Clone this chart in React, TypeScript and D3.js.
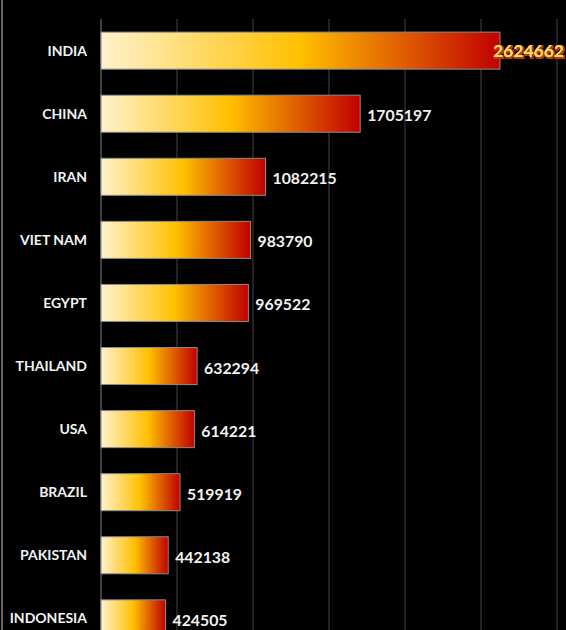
import React from "react";
import * as d3 from "d3";

const countries = ["INDIA", "CHINA", "IRAN", "VIET NAM", "EGYPT", "THAILAND", "USA", "BRAZIL", "PAKISTAN", "INDONESIA"];
const values = [2624662, 1705197, 1082215, 983790, 969522, 632294, 614221, 519919, 442138, 424505];
const gridTicks = [0, 500000, 1000000, 1500000, 2000000, 2500000, 3000000];

const W = 566;
const H = 630;

export default function App() {
  const x = d3.scaleLinear().domain([0, 3000000]).range([101, 557]);
  const y = d3.scaleBand<string>().domain(countries).range([19.5, 649.5]).paddingInner(0.413).paddingOuter(0.2);
  const font = "Lato, 'Open Sans', sans-serif";
  return (
    <svg width={W} height={H} style={{ position: "fixed", left: 0, top: 0, background: "#000" }}>
      <defs>
        {values.map((v, i) => (
          <linearGradient key={i} id={`g${i}`} x1="0" x2="1" y1="0" y2="0">
            <stop offset="0" stopColor="#FFF2CC" />
            <stop offset="0.5" stopColor="#FFC000" />
            <stop offset="1" stopColor="#C00000" />
          </linearGradient>
        ))}
        <filter id="glow" x="-10%" y="-30%" width="120%" height="160%">
          <feMorphology in="SourceAlpha" operator="dilate" radius="0.6" result="d" />
          <feFlood floodColor="#B04000" />
          <feComposite in2="d" operator="in" result="s" />
          <feOffset dx="0.8" dy="0.8" in="s" result="o" />
          <feMerge>
            <feMergeNode in="o" />
            <feMergeNode in="SourceGraphic" />
          </feMerge>
        </filter>
      </defs>
      <rect x={0} y={0} width={W} height={H} fill="#000" />
      <line x1={2} x2={2} y1={0} y2={H} stroke="#8a8a8a" strokeWidth={1.5} />
      {gridTicks.slice(1).map((t) => (
        <line key={t} x1={x(t)} x2={x(t)} y1={19} y2={H} stroke="#3a3a3a" strokeWidth={1.2} />
      ))}
      <line x1={x(0)} x2={x(0)} y1={19} y2={H} stroke="#6a6a6a" strokeWidth={1.2} />
      {countries.map((c, i) => {
        const yy = y(c)!;
        const bw = y.bandwidth();
        const xe = x(values[i]);
        return (
          <g key={c}>
            <rect x={x(0)} y={yy} width={xe - x(0)} height={bw} fill={`url(#g${i})`} stroke="#8c8c8c" strokeWidth={1} />
            <text x={87} y={yy + bw / 2} dy="0.35em" textAnchor="end" fill="#f2f2f2" fontFamily={font} fontWeight={700} fontSize={14}>
              {c}
            </text>
            {i === 0 ? (
              <text x={xe - 7} y={yy + bw / 2} dy="0.35em" fill="#FFD966" fontFamily={font} fontWeight={700} fontSize={17.5} filter="url(#glow)">
                {values[i]}
              </text>
            ) : (
              <text x={xe + 7} y={yy + bw / 2 + 2} dy="0.35em" fill="#f2f2f2" fontFamily={font} fontWeight={700} fontSize={15.8}>
                {values[i]}
              </text>
            )}
          </g>
        );
      })}
    </svg>
  );
}
